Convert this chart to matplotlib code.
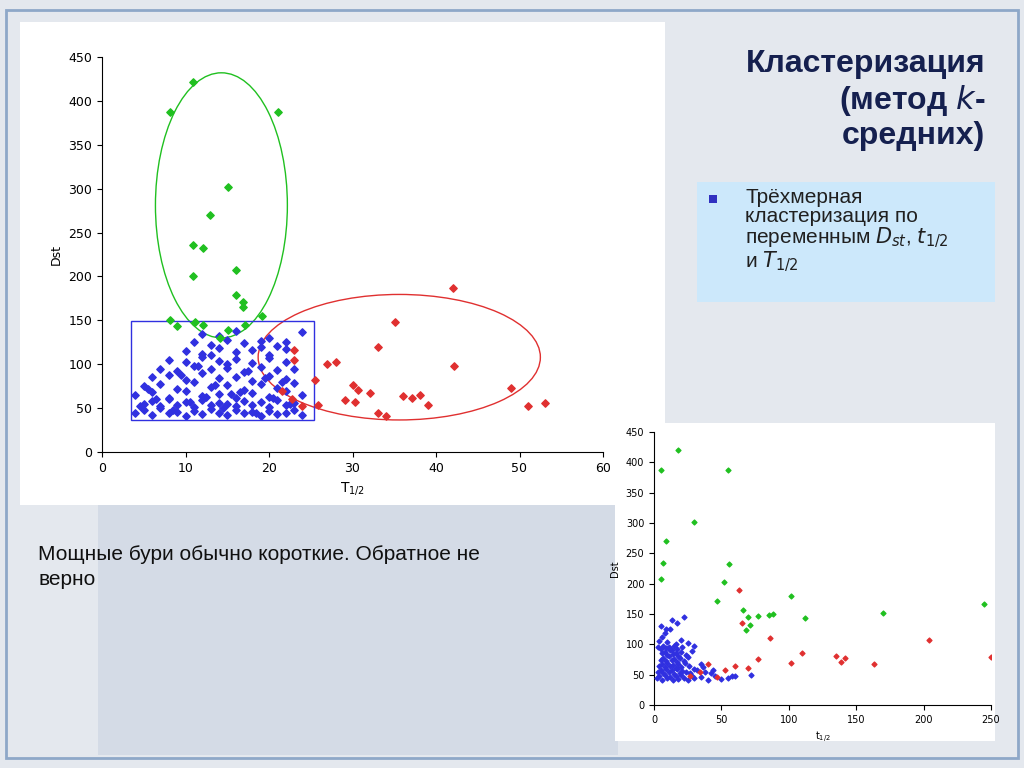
import matplotlib
matplotlib.use("Agg")
import matplotlib.pyplot as plt
from matplotlib.patches import Ellipse, Rectangle

# ---- main plot data (T1/2, Dst) ----
green_T = [8.1,10.9,21.1,15.1,12.9,10.9,12.1,10.9,16.0,16.0,16.9,16.9,19.2,8.1,9.0,11.1,12.1,15.1,17.1,14.1]
green_D = [387,421,387,302,270,236,232,200,207,179,171,165,155,150,143,148,145,139,145,130]
red_T = [42,35.1,33,23,23,28,27,42.1,25.5,30,30.7,32.1,49,36,37.1,38.1,29.1,30.3,39,51,53,33,34,25.9,24,21.6,22.7]
red_D = [187,148,120,116,105,102,100,98,82,76,71,67,73,64,61,65,59,57,53,52,56,44,41,54,52,70,60]
blue_T = [4,5,6,7,8,9,10,11,12,13,14,15,16,17,18,19,20,21,22,23,24,
          5,6,7,8,9,10,11,12,13,14,15,16,17,18,19,20,21,22,23,
          4,6,8,10,12,14,16,18,20,22,24,
          5,7,9,11,13,15,17,19,21,23,
          6,8,10,12,14,16,18,20,22,
          7,9,11,13,15,17,19,21,23,
          8,10,12,14,16,18,20,22,
          10,12,14,16,18,20,22,
          11,13,15,17,19,21,
          12,14,16,20,24,13,15,19,22,
          4.5,6.5,8.5,10.5,12.5,14.5,16.5,18.5,20.5,22.5,
          5.5,9.5,13.5,17.5,21.5,11.5,15.5,19.5]
blue_D = [45,48,42,50,44,46,41,47,43,49,45,42,48,44,46,41,47,43,45,48,42,
          55,58,52,60,54,57,51,59,53,56,55,52,58,54,57,51,59,53,56,
          65,68,62,70,64,66,61,67,63,69,65,
          75,78,72,80,74,76,71,77,73,79,
          85,88,82,90,84,86,81,87,83,
          95,92,98,94,96,91,97,93,95,
          105,102,108,104,106,101,107,103,
          115,112,118,114,116,111,117,
          125,122,128,124,126,121,
          135,132,138,130,137,110,100,120,125,
          52,60,48,57,63,50,68,45,62,55,
          72,88,76,92,80,98,66,84]

# ---- inset data (t1/2, Dst) ----
g2_t = [5,18,55,30,9,7,5,56,52,47,66,70,77,85,88,102,112,170,245,71,68]
g2_D = [387,421,387,302,271,234,208,233,202,171,156,145,146,148,150,180,143,152,166,132,124]
r2_t = [63,65,86,204,110,135,142,139,163,102,250,77,60,70,40,34,27,47,53]
r2_D = [190,135,110,107,86,81,77,71,68,69,79,76,64,61,68,54,48,46,58]
b2_t = [2,4,6,8,10,12,14,16,18,20,22,25,28,30,35,40,45,50,55,60,
        3,5,7,9,11,13,15,17,19,21,24,27,32,38,44,
        4,6,8,10,12,14,16,18,20,23,26,30,36,
        5,7,9,11,13,15,17,19,22,25,
        6,8,10,12,14,16,18,20,24,28,
        3,5,7,9,11,13,15,17,21,
        4,6,8,10,12,16,20,25,30,
        5,9,13,17,22,35,42,58,72]
b2_D = [45,48,42,50,44,46,41,47,43,49,45,42,48,44,46,41,47,43,45,48,
        55,58,52,60,54,57,51,59,53,56,55,52,58,54,57,
        65,68,62,70,64,66,61,67,63,69,65,60,63,
        75,78,72,80,74,76,71,77,73,79,
        85,88,82,90,84,86,81,87,83,89,
        95,92,98,94,96,91,97,93,95,
        105,112,118,104,126,101,107,103,97,
        130,125,140,135,145,68,52,48,50]

BLUE, RED, GREEN = "#3030e0", "#e03030", "#20c020"

fig = plt.figure(figsize=(10.24, 7.68), dpi=100)
fig.patch.set_facecolor("#e4e8ee")
bg = fig.add_axes([0, 0, 1, 1]); bg.set_xlim(0, 1024); bg.set_ylim(768, 0); bg.axis("off")
bg.add_patch(Rectangle((6, 10), 1012, 748, fill=False, ec="#8ea8c8", lw=2))
bg.add_patch(Rectangle((98, 505), 520, 250, fc="#d4dbe6", ec="none"))
bg.add_patch(Rectangle((20, 22), 645, 483, fc="white", ec="none"))
bg.add_patch(Rectangle((615, 423), 380, 318, fc="white", ec="none"))
bg.add_patch(Rectangle((697, 182), 298, 120, fc="#cce8fb", ec="none"))
bg.text(985, 100, "Кластеризация\n(метод $\\mathbf{\\it{k}}$-\nсредних)", ha="right", va="center",
        fontsize=23, fontweight="bold", color="#15204f", linespacing=1.15, multialignment="right",
        family="Liberation Sans")
bg.add_patch(Rectangle((709, 195), 8, 8, fc="#3030c0", ec="none"))
bg.text(745, 188, "Трёхмерная\nкластеризация по\nпеременным $D_{st}$, $t_{1/2}$\nи $T_{1/2}$",
        ha="left", va="top", fontsize=15, color="#202020", linespacing=1.0, family="Liberation Sans")
bg.text(38, 545, "Мощные бури обычно короткие. Обратное не\nверно", ha="left", va="top",
        fontsize=15, color="#101010", linespacing=1.4, family="Liberation Sans")

ax = fig.add_axes([102/1024, 1-452/768, 501/1024, 395/768])
ax.scatter(blue_T, blue_D, marker="D", s=14, c=BLUE, zorder=3)
ax.scatter(red_T, red_D, marker="D", s=14, c=RED, zorder=3)
ax.scatter(green_T, green_D, marker="D", s=14, c=GREEN, zorder=3)
ax.add_patch(Ellipse((14.3, 281), 15.8, 302, fill=False, ec=GREEN, lw=1))
ax.add_patch(Ellipse((35.6, 108), 33.8, 143, angle=0, fill=False, ec=RED, lw=1))
ax.add_patch(Rectangle((3.5, 36), 21.9, 113, fill=False, ec=BLUE, lw=1))
ax.set_xlim(0, 60); ax.set_ylim(0, 450)
ax.set_xticks(range(0, 61, 10)); ax.set_yticks(range(0, 451, 50))
ax.set_xlabel("$\\mathregular{T_{1/2}}$", fontsize=10)
ax.set_ylabel("Dst", fontsize=9)
ax.tick_params(labelsize=9)
for s in ["top", "right"]: ax.spines[s].set_visible(False)

ax2 = fig.add_axes([654/1024, 1-705/768, 337/1024, 273/768])
ax2.scatter(b2_t, b2_D, marker="D", s=6, c=BLUE, zorder=3)
ax2.scatter(r2_t, r2_D, marker="D", s=6, c=RED, zorder=3)
ax2.scatter(g2_t, g2_D, marker="D", s=6, c=GREEN, zorder=3)
ax2.set_xlim(0, 250); ax2.set_ylim(0, 450)
ax2.set_xticks(range(0, 251, 50)); ax2.set_yticks(range(0, 451, 50))
ax2.tick_params(labelsize=7)
ax2.set_xlabel("$\\mathregular{t_{1/2}}$", fontsize=7)
ax2.set_ylabel("Dst", fontsize=7)
for s in ["top", "right"]: ax2.spines[s].set_visible(False)

fig.savefig("out.png", dpi=100, facecolor=fig.get_facecolor())
